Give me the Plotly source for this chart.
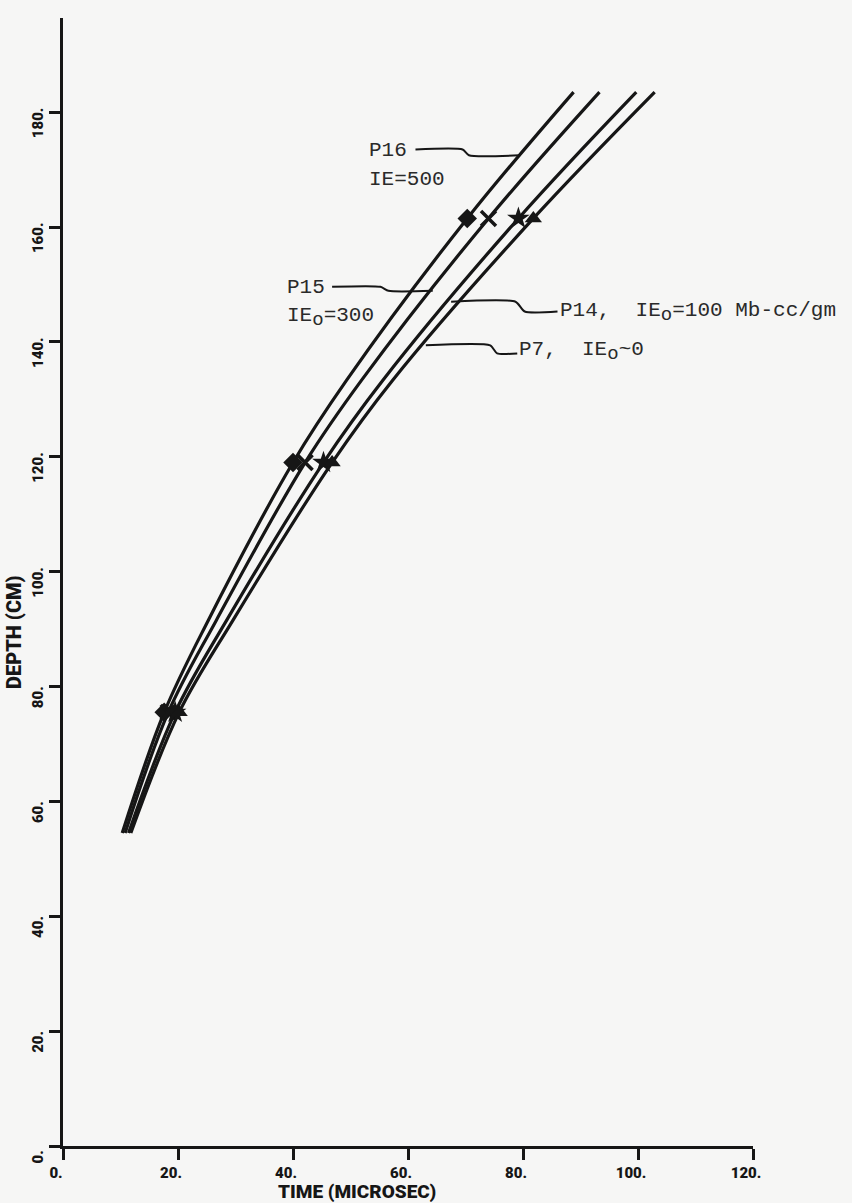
import plotly.graph_objects as go

# Depth levels (cm) at which each trajectory was read
depth = [54.5, 75.5, 91.6, 119.0, 133.3, 161.5, 183.5]

# Arrival time (microsec) of each run at those depths
t_p16 = [10.3, 17.6, 25.3, 40.0, 49.3, 70.3, 88.8]
t_p15 = [10.8, 18.3, 26.7, 42.1, 51.9, 74.0, 93.3]
t_p14 = [11.4, 19.5, 28.5, 45.3, 55.6, 79.2, 99.7]
t_p7 = [11.8, 20.2, 29.6, 46.8, 57.3, 81.8, 102.9]

# Depth indices carrying a symbol on each curve
marker_idx = [1, 3, 5]

x_ticks = [0, 20, 40, 60, 80, 100, 120]
y_ticks = [0, 20, 40, 60, 80, 100, 120, 140, 160, 180]

INK = "#161616"
PAPER = "#f6f6f5"
TICK_FONT = dict(family="Liberation Sans Narrow, Roboto, DejaVu Sans, sans-serif",
                 size=15, color=INK, weight=900)
LABEL_FONT = dict(family="Liberation Mono, Courier New, monospace", size=21, color="#2a2a2a")

runs = [
    ("P16", t_p16, "diamond", dict(size=15, color=INK)),
    ("P15", t_p15, "x-thin", dict(size=15, color=INK, line=dict(width=3.5, color=INK))),
    ("P14", t_p14, "star", dict(size=17, color=INK)),
    ("P7", t_p7, "triangle-up", dict(size=15, color=INK)),
]

fig = go.Figure()
for name, t, sym, mk in runs:
    fig.add_trace(go.Scatter(
        x=t, y=depth, mode="lines", name=name,
        line=dict(color=INK, width=3.2, shape="spline", smoothing=1.0),
        hoverinfo="skip", showlegend=False,
    ))
    fig.add_trace(go.Scatter(
        x=[t[i] for i in marker_idx], y=[depth[i] for i in marker_idx],
        mode="markers", marker=dict(symbol=sym, **mk),
        hoverinfo="skip", showlegend=False,
    ))

# Leader lines from the run labels to their curves
leaders = [
    ([61.3, 69.5, 70.6, 79.4], [173.5, 173.5, 172.5, 172.5]),
    ([46.8, 55.2, 56.6, 64.3], [149.6, 149.6, 148.9, 148.9]),
    ([67.5, 78.7, 80.3, 86.0], [147.0, 147.0, 145.3, 145.3]),
    ([63.1, 74.3, 75.5, 79.0], [139.4, 139.4, 138.0, 138.0]),
]
for lx, ly in leaders:
    fig.add_trace(go.Scatter(
        x=lx, y=ly, mode="lines",
        line=dict(color=INK, width=2, shape="spline", smoothing=0.6),
        hoverinfo="skip", showlegend=False,
    ))

SUB_O = '<sub><span style="font-size:19px">o</span></sub>'
labels = [
    (52.9, 173.3, "P16"),
    (52.9, 168.2, "IE=500"),
    (38.6, 149.5, "P15"),
    (38.6, 144.3, f"IE{SUB_O}=300"),
    (86.0, 145.2, f"P14,\u00a0 IE{SUB_O}=100 Mb-cc/gm"),
    (79.0, 138.4, f"P7,\u00a0 IE{SUB_O}~0"),
]
for x, y, txt in labels:
    fig.add_annotation(x=x, y=y, xref="x", yref="y", text=txt, showarrow=False,
                       xanchor="left", yanchor="middle", font=LABEL_FONT)

fig.add_annotation(x=51.1, y=-0.0405, xref="x", yref="paper", text="TIME (MICROSEC)",
                   showarrow=False, xanchor="center", yanchor="middle",
                   font=dict(TICK_FONT, size=19))
fig.add_annotation(x=-0.071, y=89.5, xref="paper", yref="y", text="DEPTH (CM)",
                   showarrow=False, textangle=-90, xanchor="center", yanchor="middle",
                   font=dict(TICK_FONT, size=20))

axis_common = dict(
    showgrid=False, zeroline=False, showline=True, linecolor=INK, linewidth=3,
    ticks="outside", ticklen=11, tickwidth=3, tickcolor=INK, tickfont=TICK_FONT,
)
fig.update_xaxes(range=[0, 120], tickvals=x_ticks, ticklabelshift=-7,
                 ticktext=[f"{v}." for v in x_ticks], **axis_common)
fig.update_yaxes(range=[0, 196.4], tickvals=y_ticks, ticklabelshift=13,
                 ticktext=[f"{v}." for v in y_ticks], tickangle=-90, **axis_common)

fig.update_layout(
    width=852, height=1203,
    margin=dict(l=63, r=99, t=18, b=57),
    paper_bgcolor=PAPER, plot_bgcolor=PAPER,
)

fig.write_html("out.html")
